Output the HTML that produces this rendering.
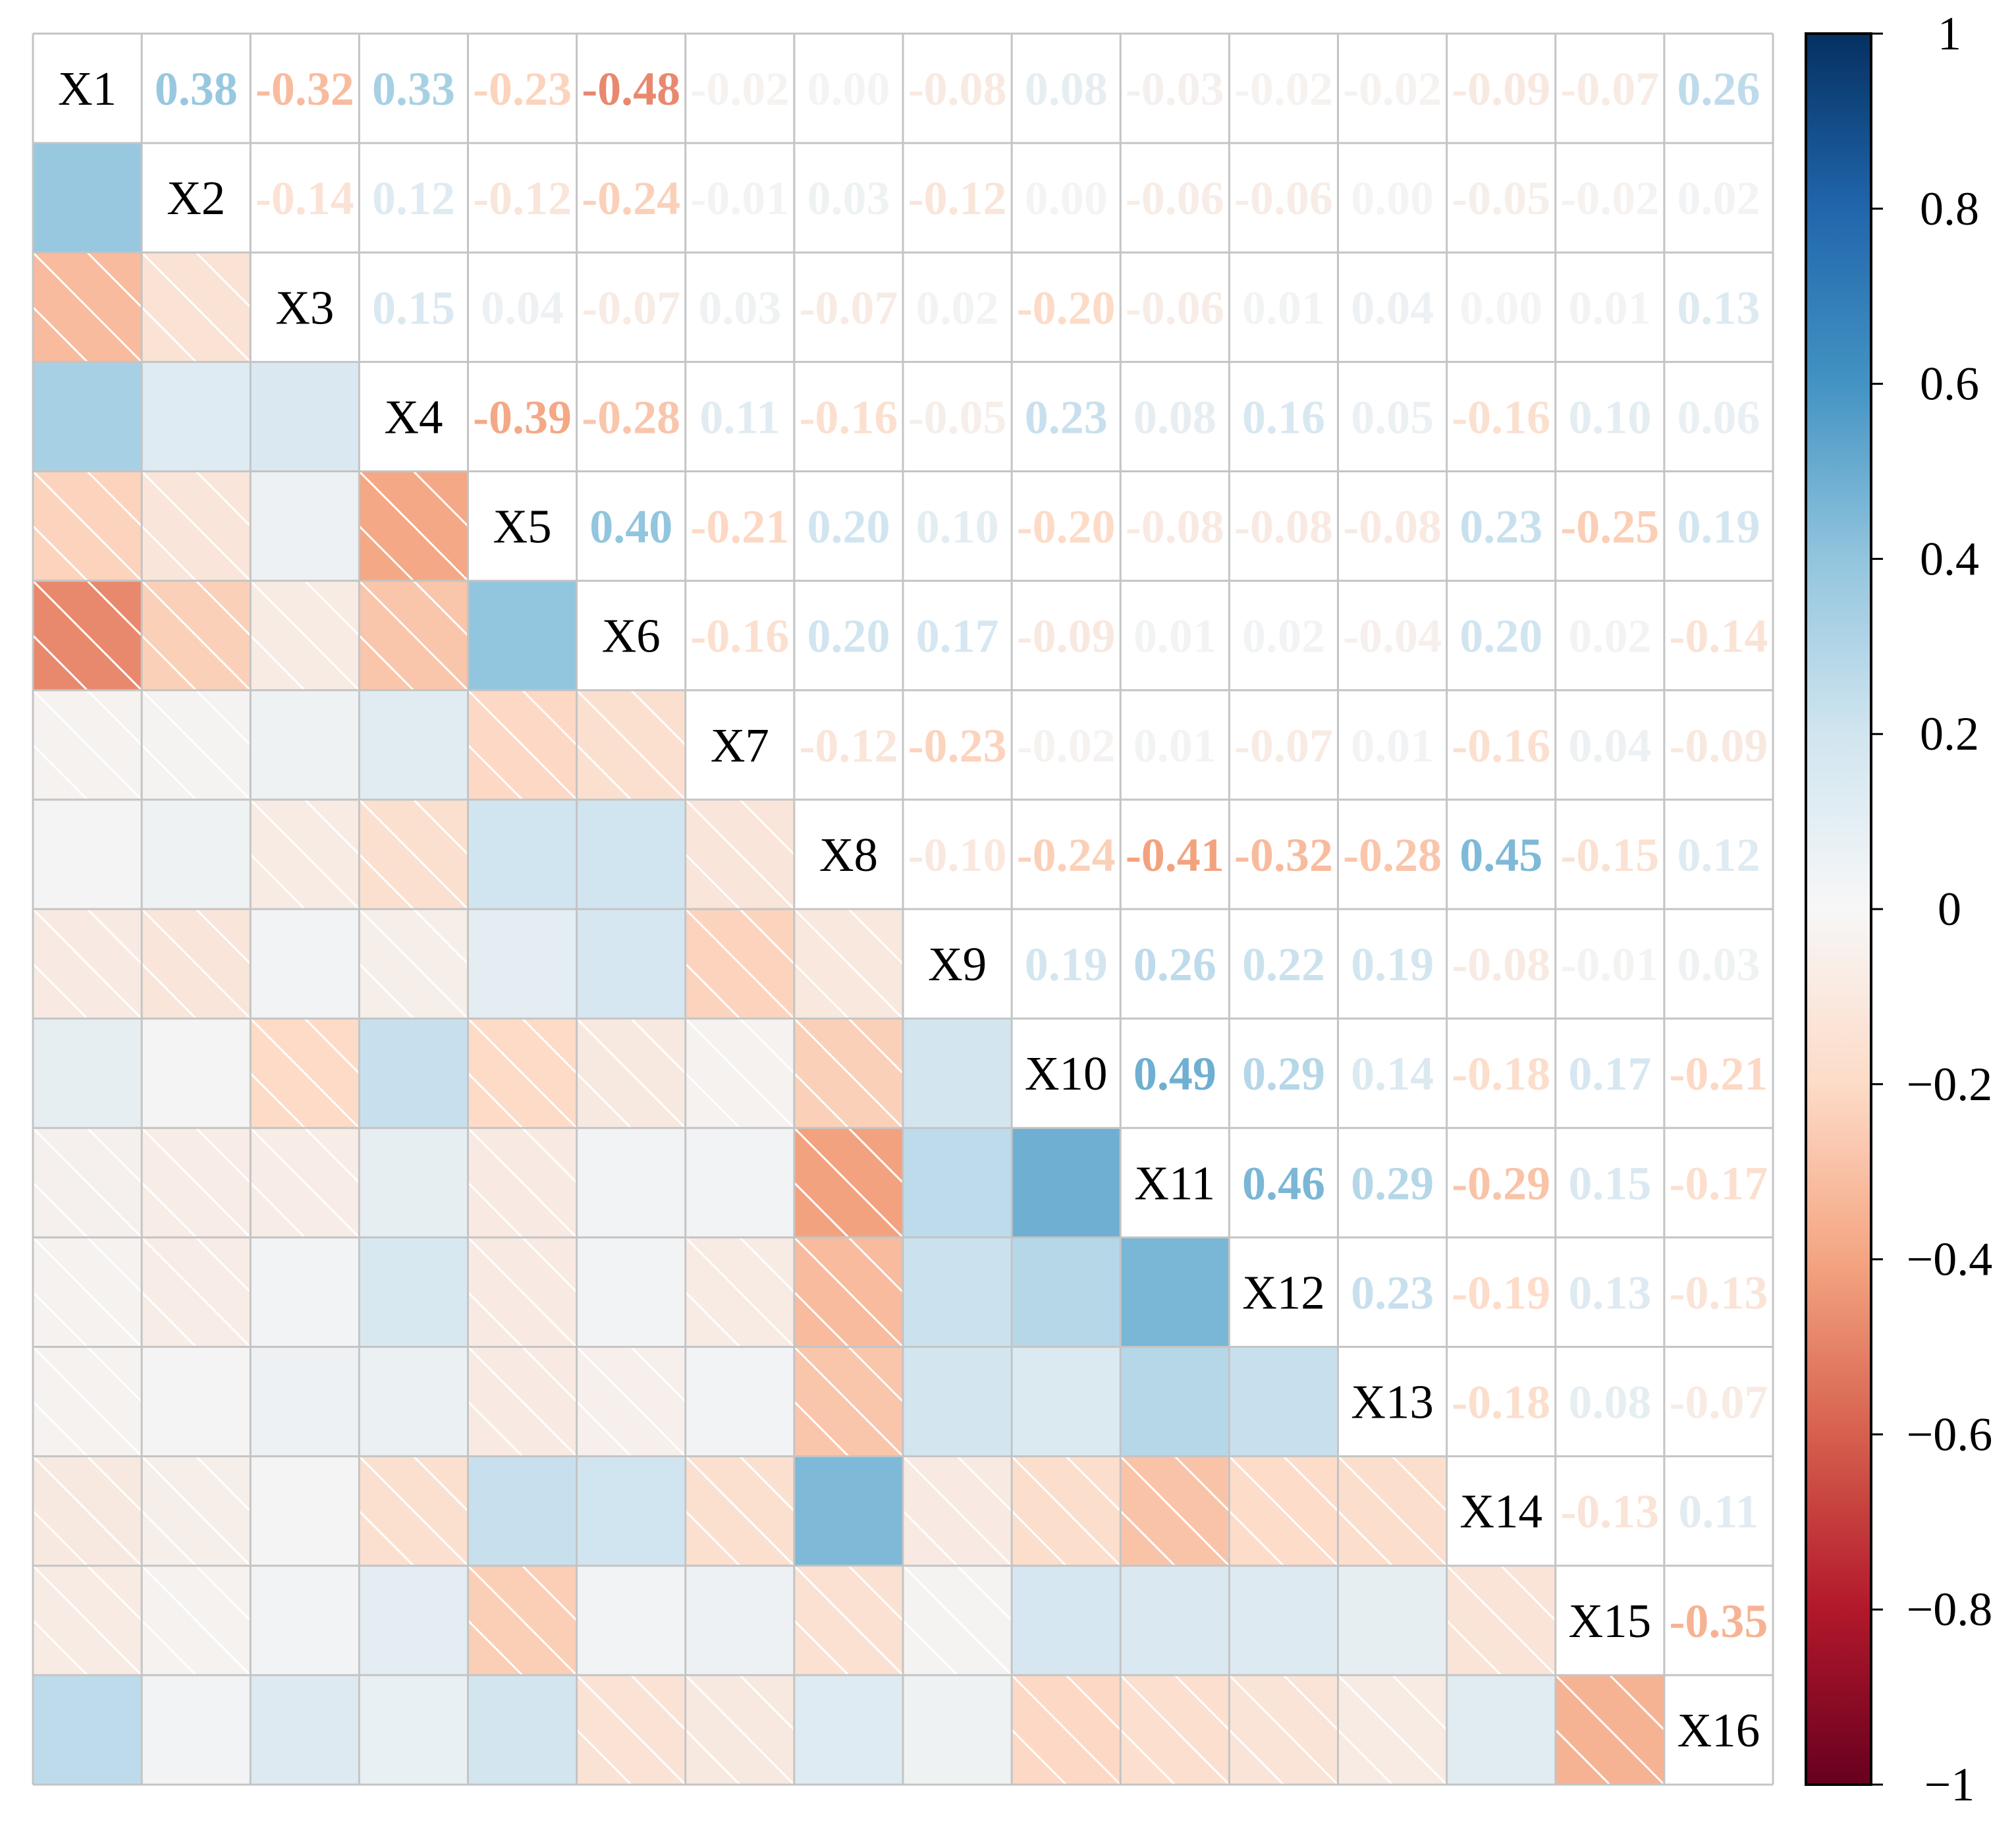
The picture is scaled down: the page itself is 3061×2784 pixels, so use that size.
<!DOCTYPE html>
<html><head><meta charset="utf-8"><style>
html,body{margin:0;padding:0;background:#fff;}
svg{display:block;}
text{font-family:"Liberation Serif","Times New Roman",serif;}
</style></head><body>
<svg id="chart" width="3061" height="2784" viewBox="0 0 3061 2784" xmlns="http://www.w3.org/2000/svg">
<rect x="0" y="0" width="3061" height="2784" fill="#ffffff"/>
<defs>
<linearGradient id="cbgrad" x1="0" y1="0" x2="0" y2="1">
<stop offset="0" stop-color="#053061"/><stop offset="0.1" stop-color="#2166AC"/><stop offset="0.2" stop-color="#4393C3"/><stop offset="0.3" stop-color="#92C5DE"/><stop offset="0.4" stop-color="#D1E5F0"/><stop offset="0.5" stop-color="#F7F7F7"/><stop offset="0.6" stop-color="#FDDBC7"/><stop offset="0.7" stop-color="#F4A582"/><stop offset="0.8" stop-color="#D6604D"/><stop offset="0.9" stop-color="#B2182B"/><stop offset="1" stop-color="#67001F"/>
</linearGradient>
</defs>
<g id="cells"></g><g id="grid"></g><g id="labels"></g><g id="colorbar"></g>
</svg>
<script>
const variables = ["X1","X2","X3","X4","X5","X6","X7","X8","X9","X10","X11","X12","X13","X14","X15","X16"];
const row1 = [0.38,-0.32,0.33,-0.23,-0.48,-0.02,0.00,-0.08,0.08,-0.03,-0.02,-0.02,-0.09,-0.07,0.26];
const row2 = [-0.14,0.12,-0.12,-0.24,-0.01,0.03,-0.12,0.00,-0.06,-0.06,0.00,-0.05,-0.02,0.02];
const row3 = [0.15,0.04,-0.07,0.03,-0.07,0.02,-0.20,-0.06,0.01,0.04,0.00,0.01,0.13];
const row4 = [-0.39,-0.28,0.11,-0.16,-0.05,0.23,0.08,0.16,0.05,-0.16,0.10,0.06];
const row5 = [0.40,-0.21,0.20,0.10,-0.20,-0.08,-0.08,-0.08,0.23,-0.25,0.19];
const row6 = [-0.16,0.20,0.17,-0.09,0.01,0.02,-0.04,0.20,0.02,-0.14];
const row7 = [-0.12,-0.23,-0.02,0.01,-0.07,0.01,-0.16,0.04,-0.09];
const row8 = [-0.10,-0.24,-0.41,-0.32,-0.28,0.45,-0.15,0.12];
const row9 = [0.19,0.26,0.22,0.19,-0.08,-0.01,0.03];
const row10 = [0.49,0.29,0.14,-0.18,0.17,-0.21];
const row11 = [0.46,0.29,-0.29,0.15,-0.17];
const row12 = [0.23,-0.19,0.13,-0.13];
const row13 = [-0.18,0.08,-0.07];
const row14 = [-0.13,0.11];
const row15 = [-0.35];
const upperRows = [row1,row2,row3,row4,row5,row6,row7,row8,row9,row10,row11,row12,row13,row14,row15];
const colorbarTicks = [1,0.8,0.6,0.4,0.2,0,-0.2,-0.4,-0.6,-0.8,-1];

const NS="http://www.w3.org/2000/svg";
const FONT='"Liberation Serif","Times New Roman",serif';
const n=variables.length;
const X0=50,X1=2692,Y0=51,Y1=2709;
const cw=(X1-X0)/n, ch=(Y1-Y0)/n;
const xPos=j=>X0+j*cw, yPos=i=>Y0+i*ch;
const stops=["#67001F","#B2182B","#D6604D","#F4A582","#FDDBC7","#F4F4F4","#D1E5F0","#92C5DE","#4393C3","#2166AC","#053061"];
function hex(h){return [1,3,5].map(k=>parseInt(h.substr(k,2),16));}
function colorOf(v){
  const t=(v+1)/2*(stops.length-1);
  const k=Math.min(stops.length-2,Math.max(0,Math.floor(t)));
  const f=t-k;const a=hex(stops[k]),b=hex(stops[k+1]);
  return "rgb("+a.map((c,i)=>Math.round(c+(b[i]-c)*f)).join(",")+")";
}
function mk(tag,attrs,parent){const e=document.createElementNS(NS,tag);for(const k in attrs)e.setAttribute(k,attrs[k]);parent.appendChild(e);return e;}
function corr(i,j){if(i===j)return 1;const a=Math.min(i,j),b=Math.max(i,j);return upperRows[a][b-a-1];}
function fmt(v){return (v<0?"-":"")+Math.abs(v).toFixed(2);}

const gCells=document.getElementById("cells"),gLab=document.getElementById("labels"),gGrid=document.getElementById("grid"),gCb=document.getElementById("colorbar");
for(let i=0;i<n;i++){for(let j=0;j<n;j++){
  const x=xPos(j),y=yPos(i),v=corr(i,j);
  if(i>j){
    const r=mk("rect",{x:x,y:y,width:cw,height:ch,fill:colorOf(v)},gCells);
    
    
    if(v<0){
      const d=[[x+cw/2,y,x+cw,y+ch/2],[x,y,x+cw,y+ch],[x,y+ch/2,x+cw/2,y+ch]];
      d.forEach(p=>{const l=mk("line",{x1:p[0],y1:p[1],x2:p[2],y2:p[3],stroke:"#ffffff","stroke-width":3},gCells);
        
        });
    }
  } else if(i===j){
    const t=mk("text",{x:x+cw/2,y:y+ch/2+25,"text-anchor":"middle","font-family":FONT,"font-size":73,fill:"#000"},gLab);
    t.textContent=variables[i];
    
    
  } else {
    const t=mk("text",{x:x+cw/2,y:y+ch/2+25,"text-anchor":"middle","font-family":FONT,"font-size":72,"font-weight":"bold",fill:colorOf(v)},gLab);
    t.textContent=fmt(v);
    
    
  }
}}
for(let k=0;k<=n;k++){
  const a=mk("line",{x1:xPos(k),y1:Y0,x2:xPos(k),y2:Y1,stroke:"#c4c4c4","stroke-width":3},gGrid);
  
  
  const b=mk("line",{x1:X0,y1:yPos(k),x2:X1,y2:yPos(k),stroke:"#c4c4c4","stroke-width":3},gGrid);
  
  
}
const CBX0=2742,CBX1=2841,CBY0=51,CBY1=2709;
const cbY=v=>CBY0+(1-v)/2*(CBY1-CBY0);
const bar=mk("rect",{x:CBX0,y:CBY0,width:CBX1-CBX0,height:CBY1-CBY0,fill:"url(#cbgrad)",stroke:"#000","stroke-width":4},gCb);


colorbarTicks.forEach(v=>{
  const y=cbY(v);
  const tk=mk("line",{x1:CBX1,y1:y,x2:2859,y2:y,stroke:"#000","stroke-width":3},gCb);
  
  
  const label=v===0?"0":(v<0?"\u2212"+Math.abs(v):String(v));
  const t=mk("text",{x:2960,y:y+24,"text-anchor":"middle","font-family":FONT,"font-size":72,fill:"#000"},gCb);
  t.textContent=label;
  
  
});
</script>
</body></html>
